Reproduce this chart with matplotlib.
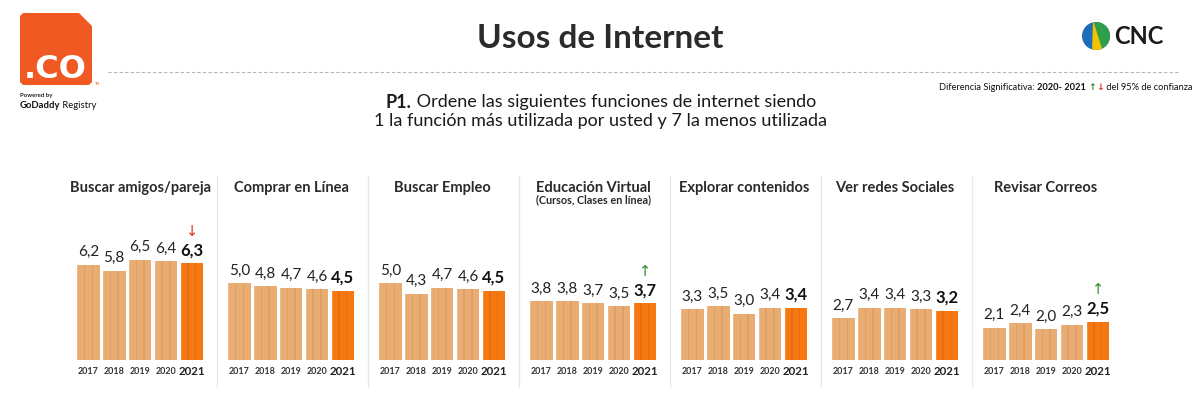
import matplotlib
matplotlib.use("Agg")
import matplotlib.pyplot as plt
from matplotlib.patches import Polygon, Circle
import numpy as np

plt.rcParams['font.family'] = ['Lato', 'DejaVu Sans']

# ---------------- data ----------------
years = ["2017", "2018", "2019", "2020", "2021"]
categories = ["Buscar amigos/pareja", "Comprar en Línea", "Buscar Empleo",
              "Educación Virtual", "Explorar contenidos", "Ver redes Sociales",
              "Revisar Correos"]
subtitles = ["", "", "", "(Cursos, Clases en línea)", "", "", ""]
buscar_amigos = [6.2, 5.8, 6.5, 6.4, 6.3]
comprar_linea = [5.0, 4.8, 4.7, 4.6, 4.5]
buscar_empleo = [5.0, 4.3, 4.7, 4.6, 4.5]
educacion_virtual = [3.8, 3.8, 3.7, 3.5, 3.7]
explorar_contenidos = [3.3, 3.5, 3.0, 3.4, 3.4]
ver_redes = [2.7, 3.4, 3.4, 3.3, 3.2]
revisar_correos = [2.1, 2.4, 2.0, 2.3, 2.5]
series = [buscar_amigos, comprar_linea, buscar_empleo, educacion_virtual,
          explorar_contenidos, ver_redes, revisar_correos]
# significance 2020-2021: +1 up, -1 down, 0 none
significance = [-1, 0, 0, 1, 0, 0, 1]

W, H = 1200, 393
fig = plt.figure(figsize=(W / 100, H / 100), dpi=100)
fig.patch.set_facecolor("white")

def fx(x):
    return x / W

def fy(y):
    return 1 - y / H

TAN = "#E9AC73"
TAN_D = "#D8955C"
ORANGE = "#F67812"
ORANGE_D = "#E0650A"

# ---------------- decoration layer (pixel coords) ----------------
deco = fig.add_axes([0, 0, 1, 1], zorder=0)
deco.set_xlim(0, W)
deco.set_ylim(H, 0)
deco.axis("off")

fig.canvas.draw()
renderer = fig.canvas.get_renderer()

def chain(pieces, x, y, ha="left"):
    """pieces: list of (text, kwargs). Place sequentially at pixel y."""
    widths = []
    tmp = []
    for txt, kw in pieces:
        t = deco.text(0, y, txt, va="center", ha="left", **kw)
        bb = t.get_window_extent(renderer=renderer)
        widths.append(bb.width)
        tmp.append(t)
    total = sum(widths)
    if ha == "center":
        x0 = x - total / 2
    elif ha == "right":
        x0 = x - total
    else:
        x0 = x
    for t, w in zip(tmp, widths):
        t.set_x(x0)
        x0 += w

# .CO logo
logo = Polygon([(20, 16), (23, 13), (79, 13), (92, 26), (92, 82), (89, 85),
                (23, 85), (20, 82)], closed=True, facecolor="#F05A22",
               edgecolor="none")
deco.add_patch(logo)
deco.text(55, 70, ".CO", color="white", fontsize=23, fontweight="bold",
          ha="center", va="center", family="DejaVu Sans")
deco.text(95, 84, "TM", color="#F05A22", fontsize=2.5, ha="left", va="center")
deco.text(20, 95, "Powered by", color="#222222", fontsize=4.3,
          fontweight="bold", ha="left", va="center")
chain([("GoDaddy", dict(fontsize=6.8, fontweight="bold", color="#111111")),
       (" Registry", dict(fontsize=6.8, color="#111111"))], 20, 106)

# CNC logo
cx, cy, r = 1096, 36, 14
circ = Circle((cx, cy), r, facecolor="#1F6DB8", edgecolor="none")
deco.add_patch(circ)
green = Polygon([(cx - 3, cy - r - 2), (cx + r + 2, cy - r - 2),
                 (cx + r + 2, cy + r + 2), (cx + 5, cy + r + 2)],
                facecolor="#2E9E48", edgecolor="none")
deco.add_patch(green)
green.set_clip_path(circ)
yellow = Polygon([(cx - 3, cy - r - 2), (cx + 7, cy + r + 2),
                  (cx - 4, cy + r + 2)], facecolor="#F4C300", edgecolor="none")
deco.add_patch(yellow)
yellow.set_clip_path(circ)
deco.text(1114, 37, "CNC", fontsize=17, fontweight="bold", color="#1a1a1a",
          ha="left", va="center")

# Title
deco.text(600, 39, "Usos de Internet", fontsize=24, fontweight="bold",
          color="#2b2b2b", ha="center", va="center")

# dashed rule
deco.plot([108, 1178], [72, 72], color="#B5B5B5", lw=0.8,
          linestyle=(0, (3, 2)))

sig_fs = 6.7
chain([("Diferencia Significativa: ", dict(fontsize=sig_fs, color="#111111")),
       ("2020- 2021 ", dict(fontsize=sig_fs, color="#111111", fontweight="bold")),
       ("↑", dict(fontsize=sig_fs, color="#2E8B2E", family="DejaVu Sans", fontweight="bold")),
       ("↓", dict(fontsize=sig_fs, color="#E0322B", family="DejaVu Sans", fontweight="bold")),
       (" del 95% de confianza", dict(fontsize=sig_fs, color="#111111"))],
      1192, 88, ha="right")

q_fs = 13
chain([("P1.", dict(fontsize=q_fs, fontweight="bold", color="#1a1a1a")),
       (" Ordene las siguientes funciones de internet siendo",
        dict(fontsize=q_fs, color="#1a1a1a"))], 601, 102, ha="center")
chain([("1 la función más utilizada por usted y 7 la menos utilizada",
        dict(fontsize=q_fs, color="#1a1a1a"))], 601, 121, ha="center")

# separators between panels
step = 151.0
first_left = 75.35
ax_w = 129.5
for i in range(1, 7):
    xs = first_left + step * i - 9.5
    deco.plot([xs, xs], [176, 386], color="#E6E6E6", lw=0.9)

# ---------------- panels ----------------
y_bottom_px, y_top_px = 360, 200
px_per_unit = 15.4
ymax = (y_bottom_px - y_top_px) / px_per_unit
x = np.arange(len(years))

for i, (cat, sub, vals, sig) in enumerate(zip(categories, subtitles, series,
                                               significance)):
    left = first_left + step * i
    ax = fig.add_axes([fx(left), fy(y_bottom_px), ax_w / W,
                       (y_bottom_px - y_top_px) / H], zorder=2)
    ax.set_xlim(-0.5, 4.5)
    ax.set_ylim(0, ymax)
    ax.axis("off")
    ax.patch.set_alpha(0)
    cols = [TAN] * 4 + [ORANGE]
    dcols = [TAN_D] * 4 + [ORANGE_D]
    ax.bar(x, vals, width=0.88, color=cols, edgecolor="none", zorder=2)
    for off in (-0.15, 0.15):
        ax.bar(x + off, vals, width=0.05, color=dcols, edgecolor="none",
               alpha=0.55, zorder=3)
    ax.bar(x - 0.41, vals, width=0.05, color="white", alpha=0.18,
           edgecolor="none", zorder=3)

    for j, v in enumerate(vals):
        lab = f"{v:.1f}".replace(".", ",")
        if j == 4:
            ax.annotate(lab, (j, v), xytext=(0, 3.5), textcoords="offset points",
                        ha="center", va="bottom", fontsize=12,
                        fontweight="bold", color="#111111")
            ax.annotate(years[j], (j, 0), xycoords=("data", "axes fraction"),
                        xytext=(0, -8), textcoords="offset points",
                        ha="center", va="center", fontsize=8.3,
                        fontweight="bold", color="#222222")
        else:
            ax.annotate(lab, (j, v), xytext=(0, 4), textcoords="offset points",
                        ha="center", va="bottom", fontsize=11,
                        color="#222222")
            ax.annotate(years[j], (j, 0), xycoords=("data", "axes fraction"),
                        xytext=(0, -8), textcoords="offset points",
                        ha="center", va="center", fontsize=6.4,
                        fontweight="bold", color="#333333")
    if sig != 0:
        arrow = "↑" if sig > 0 else "↓"
        col = "#2E8B2E" if sig > 0 else "#E0322B"
        ax.annotate(arrow, (4, vals[4]), xytext=(0, 23),
                    textcoords="offset points", ha="center", va="center",
                    fontsize=10.5, color=col, family="DejaVu Sans")

    cxp = left + ax_w / 2
    fig.text(fx(cxp), fy(188), cat, ha="center", va="center", fontsize=10.5,
             fontweight="bold", color="#2a2a2a")
    if sub:
        fig.text(fx(cxp), fy(200), sub, ha="center", va="center",
                 fontsize=7.8, fontweight="bold", color="#2a2a2a")

fig.savefig("out.png", dpi=100, facecolor="white")
